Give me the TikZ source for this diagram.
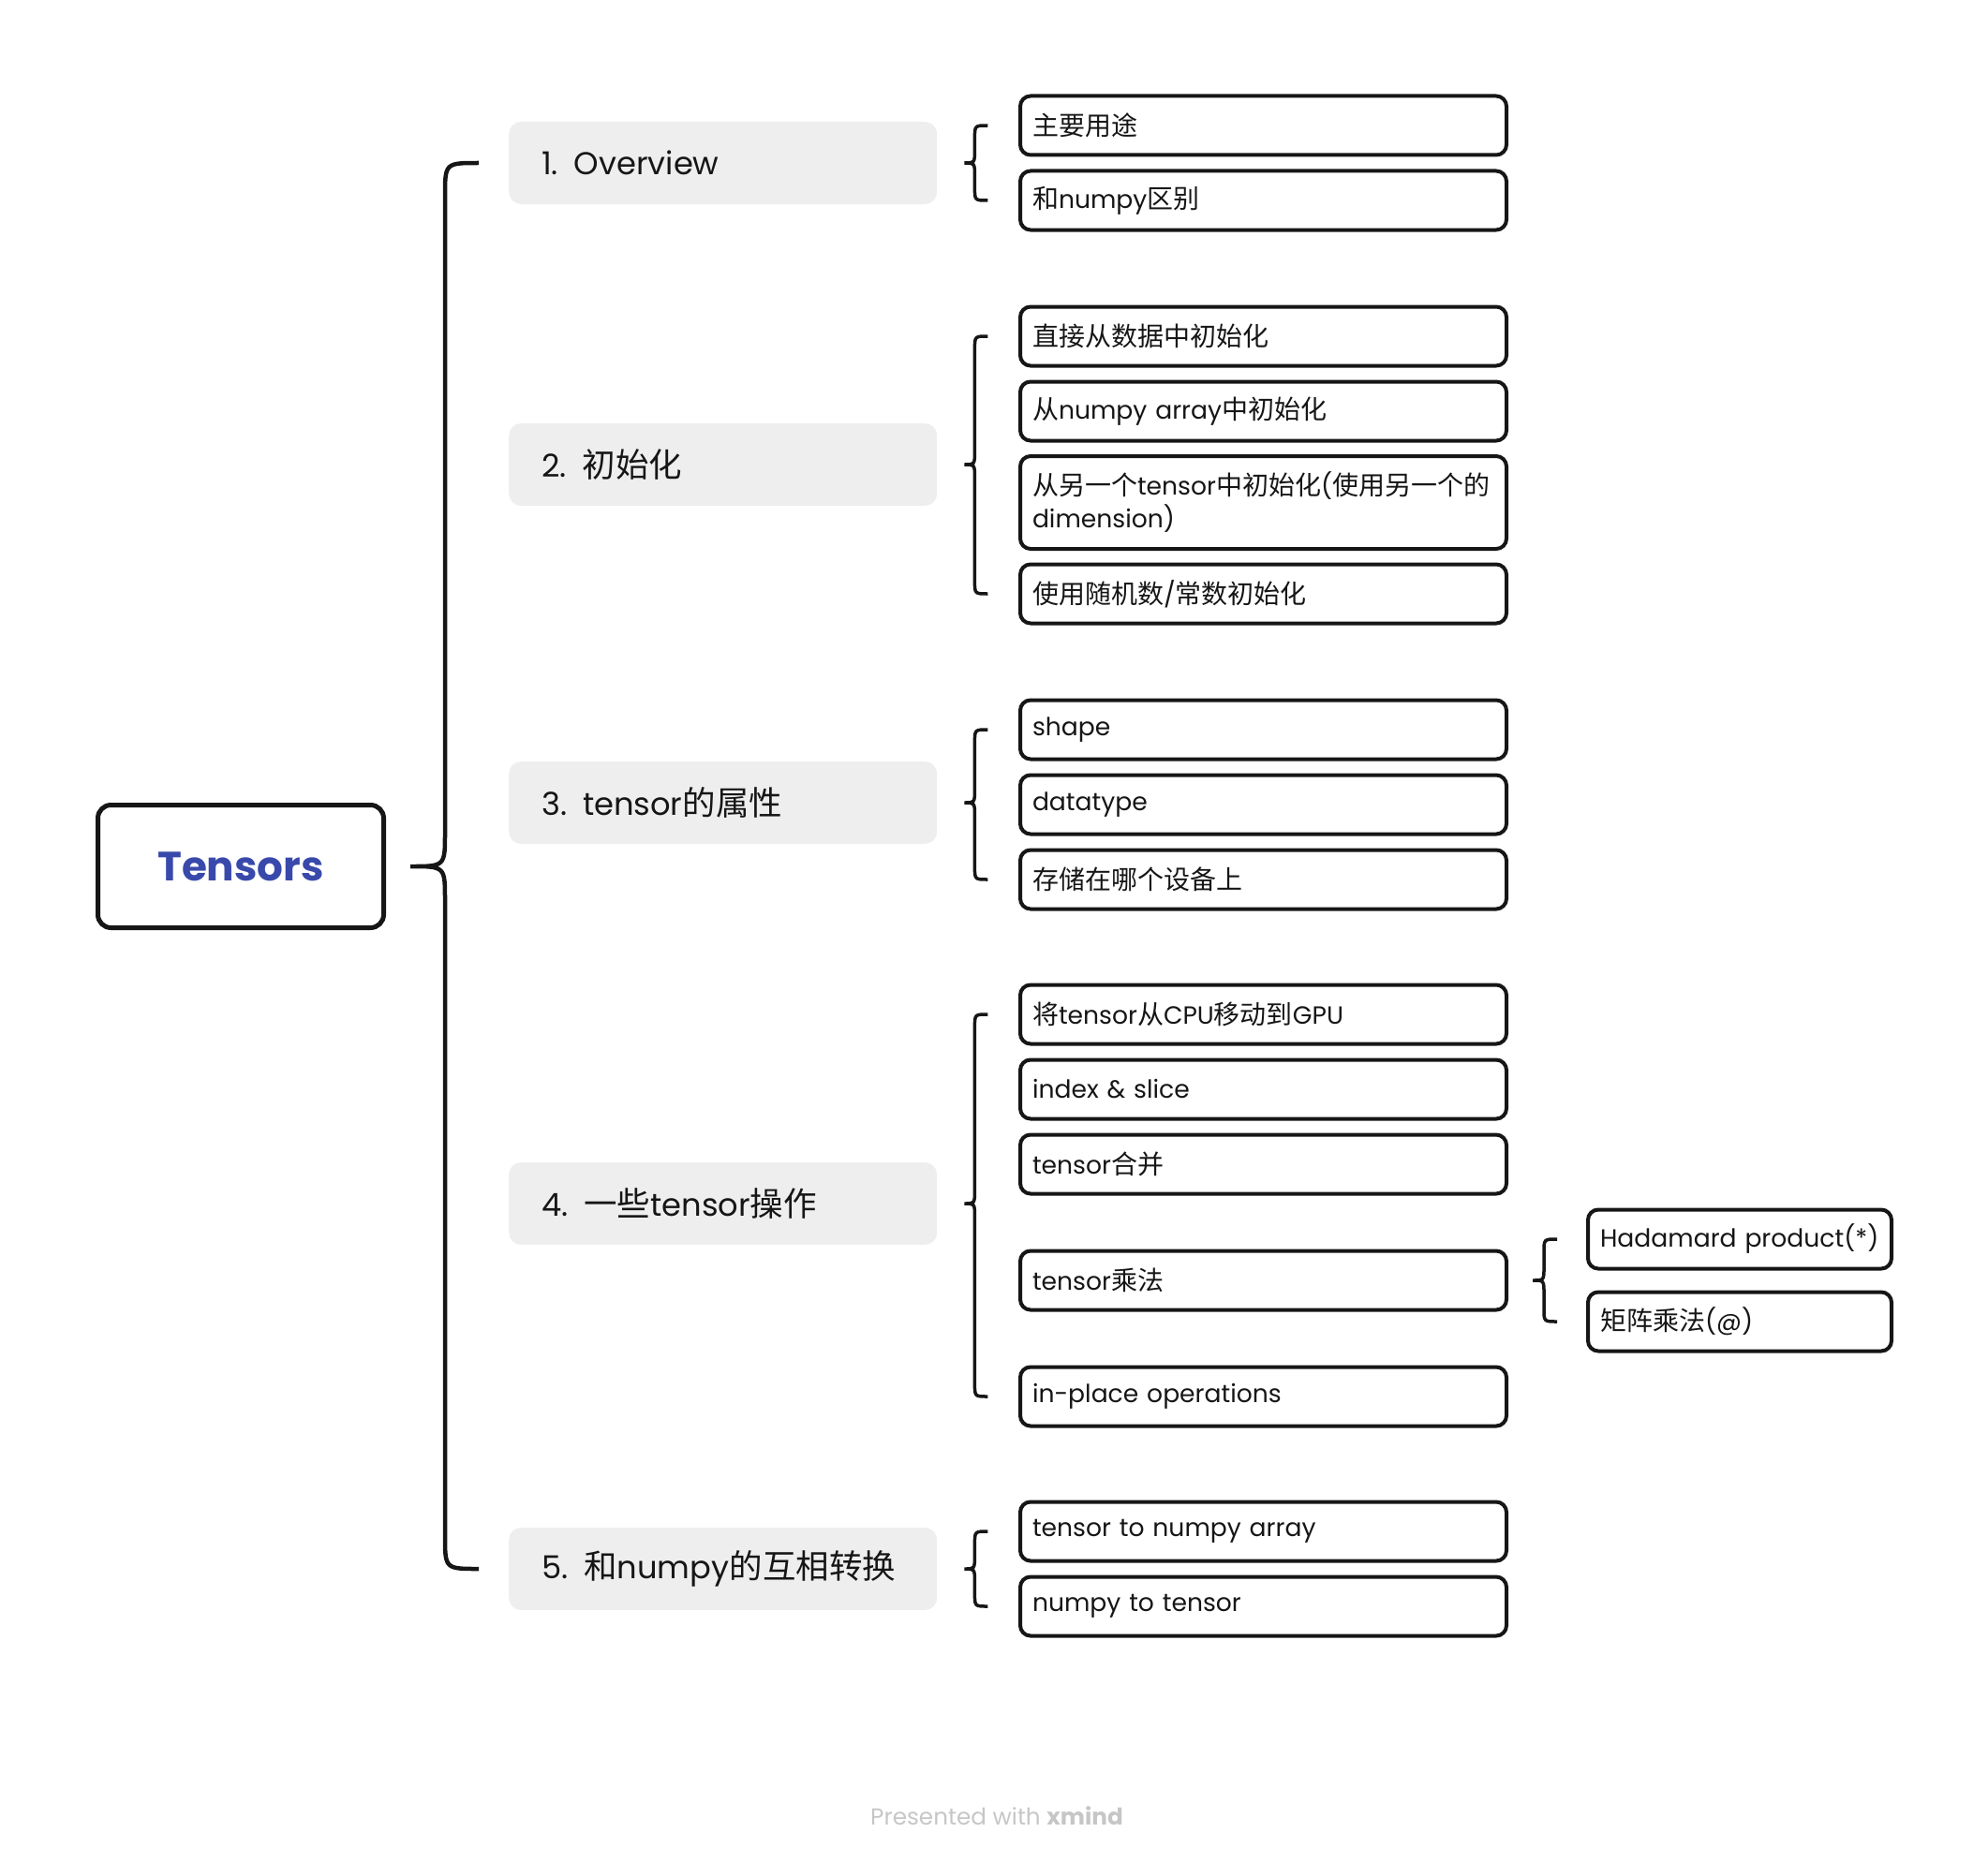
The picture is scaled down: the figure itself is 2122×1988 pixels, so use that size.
\documentclass[tikz,border=0pt]{standalone}
\usepackage{fontspec}
\setmainfont{Poppins}[Scale=0.95]
\newfontfamily\cjkfont{Noto Sans CJK SC}
\usetikzlibrary{calc}
\newcommand\zh[1]{{\cjkfont #1}}
\definecolor{tensorblue}{HTML}{3949AB}
\definecolor{topicgray}{HTML}{EEEEEE}
\definecolor{ink}{HTML}{161616}
\definecolor{footgray}{HTML}{C6C6C6}
\newcommand\bracedraw[7]{%
  \draw[#7] let \p1=(#1.east), \p2=(#2.west), \p3=(#3.west),
    \n1={\x1+#4}, \n2={\x1+#4+#5}, \n3={\x1+#4+#5+#6} in
    (\n3,\y2) .. controls (\n2,\y2) .. (\n2,\y2-#6) -- (\n2,\y1+#6)
    .. controls (\n2,\y1) .. (\n1,\y1)
    .. controls (\n2,\y1) .. (\n2,\y1-#6) -- (\n2,\y3+#6)
    .. controls (\n2,\y3) .. (\n3,\y3);}
\begin{document}
\begin{tikzpicture}[x=1pt,y=-1pt,
  rootbox/.style={draw=ink, line width=5pt, rounded corners=14pt, minimum width=305pt, minimum height=131pt, text=tensorblue, font=\fontsize{46}{54}\selectfont\bfseries},
  topicbox/.style={fill=topicgray, rounded corners=13pt, minimum width=457pt, minimum height=88pt, text width=387pt, inner xsep=35pt, align=left, text=ink, font=\fontsize{35.5}{42}\selectfont, anchor=west},
  leafbox/.style={draw=ink, line width=4pt, rounded corners=11pt, minimum width=519pt, minimum height=63pt, text width=493pt, inner xsep=13pt, align=left, text=ink, font=\fontsize{28}{35}\selectfont, anchor=west},
  subleaf/.style={leafbox, minimum width=324pt, text width=298pt},
  mainbrace/.style={draw=ink, line width=4.5pt},
  smallbrace/.style={draw=ink, line width=3.5pt}]
\useasboundingbox (0,0) rectangle (2122,1988);

% root
\node[rootbox] (root) at (257,925) {Tensors};

% topics
\node[topicbox] (t1) at (543,174) {1. Overview};
\node[topicbox] (t2) at (543,496) {2. \zh{初始化}};
\node[topicbox] (t3) at (543,857) {3. tensor\zh{的属性}};
\node[topicbox] (t4) at (543,1285) {4. \zh{一些}tensor\zh{操作}};
\node[topicbox] (t5) at (543,1675) {5. \zh{和}numpy\zh{的互相转换}};

% leaves
\node[leafbox] (a1) at (1087,134) {\zh{主要用途}};
\node[leafbox] (a2) at (1087,214) {\zh{和}numpy\zh{区别}};

\node[leafbox] (b1) at (1087,359) {\zh{直接从数据中初始化}};
\node[leafbox] (b2) at (1087,439) {\zh{从}numpy array\zh{中初始化}};
\node[leafbox, minimum height=99pt] (b3) at (1087,536.5) {\zh{从另一个}tensor\zh{中初始化}(\zh{使用另一个的}\\dimension)};
\node[leafbox] (b4) at (1087,634) {\zh{使用随机数}/\zh{常数初始化}};

\node[leafbox] (c1) at (1087,779) {shape};
\node[leafbox] (c2) at (1087,859) {datatype};
\node[leafbox] (c3) at (1087,939) {\zh{存储在哪个设备上}};

\node[leafbox] (d1) at (1087,1083) {\zh{将}tensor\zh{从}CPU\zh{移动到}GPU};
\node[leafbox] (d2) at (1087,1163) {index \& slice};
\node[leafbox] (d3) at (1087,1243) {tensor\zh{合并}};
\node[leafbox] (d4) at (1087,1367) {tensor\zh{乘法}};
\node[leafbox] (d5) at (1087,1491) {in-place operations};

\node[subleaf] (h1) at (1693,1323) {\mbox{Hadamard product(*)}};
\node[subleaf] (h2) at (1693,1411) {\zh{矩阵乘法}(@)};

\node[leafbox] (e1) at (1087,1635) {tensor to numpy array};
\node[leafbox] (e2) at (1087,1715) {numpy to tensor};

% braces
\bracedraw{root}{t1}{t5}{26}{37}{36}{mainbrace}
\bracedraw{t1}{a1}{a2}{29}{11}{14}{smallbrace}
\bracedraw{t2}{b1}{b4}{29}{11}{14}{smallbrace}
\bracedraw{t3}{c1}{c3}{29}{11}{14}{smallbrace}
\bracedraw{t4}{d1}{d5}{29}{11}{14}{smallbrace}
\bracedraw{t5}{e1}{e2}{29}{11}{14}{smallbrace}
\bracedraw{d4}{h1}{h2}{26}{12}{14}{smallbrace}

% footer
\node[text=footgray, font=\fontsize{26}{30}\selectfont] (footer) at (1064,1939) {Presented with \textbf{xmind}};
\end{tikzpicture}
\end{document}
